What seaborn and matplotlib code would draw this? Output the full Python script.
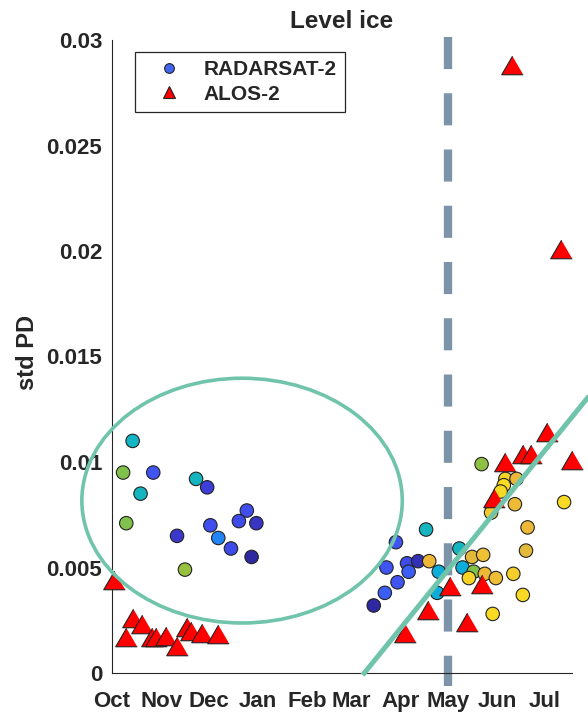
import pandas as pd
import seaborn as sns
import matplotlib
matplotlib.use("Agg")
import matplotlib.pyplot as plt
import matplotlib.dates as mdates
from matplotlib.colors import LinearSegmentedColormap
from matplotlib.lines import Line2D
from matplotlib.patches import Ellipse
from matplotlib.transforms import blended_transform_factory

# RADARSAT-2: acquisition date, std PD, colour tone (0 = dark blue ... 1 = yellow)
rs_dates = ["2016-10-14", "2016-10-08", "2016-10-27", "2016-10-19", "2016-11-23",
            "2016-11-30", "2016-10-10", "2016-11-11", "2016-12-02", "2016-12-07",
            "2016-12-15", "2016-12-25", "2016-12-20", "2016-12-31", "2016-12-28",
            "2016-11-16",
            "2017-03-29", "2017-04-17", "2017-03-23", "2017-04-05", "2017-04-12",
            "2017-04-06", "2017-04-19", "2017-03-30", "2017-03-22", "2017-03-15",
            "2017-04-25", "2017-04-24", "2017-05-08", "2017-05-16", "2017-05-23",
            "2017-05-10", "2017-05-17", "2017-05-14", "2017-05-24", "2017-05-31",
            "2017-06-11", "2017-06-17", "2017-05-29", "2017-06-19", "2017-06-20",
            "2017-06-12", "2017-07-13", "2017-05-22", "2017-06-06", "2017-06-13",
            "2017-06-05", "2017-06-03", "2017-05-28"]
rs_std = [0.0110, 0.0095, 0.0095, 0.0085, 0.0092,
          0.0088, 0.0071, 0.0065, 0.0070, 0.0064,
          0.0059, 0.0077, 0.0072, 0.0071, 0.0055,
          0.0049,
          0.0062, 0.0068, 0.0050, 0.0052, 0.0053,
          0.0048, 0.0053, 0.0043, 0.0038, 0.0032,
          0.0048, 0.0038, 0.0059, 0.0055, 0.0056,
          0.0050, 0.0048, 0.0045, 0.0047, 0.0045,
          0.0047, 0.0037, 0.0028, 0.0058, 0.0069,
          0.0080, 0.0081, 0.0099, 0.0092, 0.0092,
          0.0089, 0.0086, 0.0076]
rs_tone = [0.44, 0.65, 0.15, 0.45, 0.45,
           0.10, 0.65, 0.08, 0.14, 0.25,
           0.13, 0.14, 0.13, 0.07, 0.02,
           0.70,
           0.15, 0.45, 0.15, 0.13, 0.05,
           0.17, 0.85, 0.15, 0.17, 0.02,
           0.38, 0.38, 0.45, 0.83, 0.88,
           0.38, 0.65, 0.95, 0.85, 0.87,
           0.93, 0.97, 0.97, 0.83, 0.85,
           0.86, 0.97, 0.68, 0.95, 0.85,
           0.98, 0.97, 0.92]

# ALOS-2: acquisition date, std PD
alos_dates = ["2016-10-02", "2016-10-14", "2016-10-20", "2016-10-10", "2016-10-26",
              "2016-10-29", "2016-11-04", "2016-11-11", "2016-11-17", "2016-11-20",
              "2016-11-27", "2016-12-07",
              "2017-04-04", "2017-04-18", "2017-05-02", "2017-05-13", "2017-05-22",
              "2017-05-30", "2017-06-06", "2017-06-17", "2017-06-22", "2017-07-02",
              "2017-07-18", "2017-06-10", "2017-07-11"]
alos_std = [0.0044, 0.0026, 0.0023, 0.0017, 0.0017,
            0.0017, 0.00175, 0.0013, 0.0022, 0.0020,
            0.0019, 0.00185,
            0.0019, 0.0030, 0.0041, 0.0024, 0.0042,
            0.0083, 0.0100, 0.0104, 0.0104, 0.0114,
            0.0101, 0.0288, 0.0201]

y_ticks = [0, 0.005, 0.01, 0.015, 0.02, 0.025, 0.03]
y_labels = ["0", "0.005", "0.01", "0.015", "0.02", "0.025", "0.03"]

rs = pd.DataFrame({"date": pd.to_datetime(rs_dates), "std": rs_std, "tone": rs_tone})
alos = pd.DataFrame({"date": pd.to_datetime(alos_dates), "std": alos_std})

# parula-like colour ramp
tone_cmap = LinearSegmentedColormap.from_list("parula_like", [
    (0.00, (0.17, 0.14, 0.58)),
    (0.10, (0.24, 0.24, 0.85)),
    (0.15, (0.25, 0.33, 0.95)),
    (0.25, (0.13, 0.52, 0.97)),
    (0.38, (0.05, 0.68, 0.85)),
    (0.47, (0.09, 0.72, 0.72)),
    (0.62, (0.45, 0.76, 0.33)),
    (0.72, (0.62, 0.75, 0.22)),
    (0.85, (0.93, 0.72, 0.22)),
    (1.00, (0.98, 0.88, 0.12)),
])

sns.set_style("white")
plt.rcParams["font.family"] = ["Liberation Sans", "DejaVu Sans"]
plt.rcParams["font.weight"] = "bold"

dark = "#262626"
mint = "#70c4ab"

fig = plt.figure(figsize=(5.88, 7.12), dpi=100)
ax = fig.add_axes([112 / 588, 39 / 712, 460 / 588, 633 / 712])

sns.scatterplot(data=rs, x="date", y="std", hue="tone", palette=tone_cmap,
                hue_norm=(0, 1), s=94, edgecolor="#222222", linewidth=0.8,
                legend=False, ax=ax, clip_on=False, zorder=3)
tri = [(0, 0.86), (-1, -0.86), (1, -0.86)]
sns.scatterplot(data=alos, x="date", y="std", marker=tri, s=240, color="red",
                edgecolor="#222222", linewidth=0.8, legend=False, ax=ax,
                clip_on=False, zorder=4)

ax.set_xlim(pd.Timestamp("2016-10-01"), pd.Timestamp("2017-07-18"))
ax.set_ylim(0, 0.03)
ax.xaxis.set_major_locator(mdates.MonthLocator())
ax.xaxis.set_major_formatter(mdates.DateFormatter("%b"))
ax.set_yticks(y_ticks)
ax.set_yticklabels(y_labels)
ax.set_xlabel("")
ax.set_ylabel("")

for side in ["top", "right"]:
    ax.spines[side].set_visible(False)
for side in ["left", "bottom"]:
    ax.spines[side].set_color(dark)
    ax.spines[side].set_linewidth(0.8)
ax.tick_params(direction="in", length=5, width=0.8, color=dark,
               labelcolor=dark, labelsize=16)
ax.tick_params(axis="y", pad=7)
ax.tick_params(axis="x", pad=13)

ax.set_title("Level ice", fontsize=17.5, fontweight="bold", color=dark, pad=9)
fig.text(27 / 588, 1 - 352 / 712, "std PD", rotation=90, ha="center",
         va="center", fontsize=17, fontweight="bold", color=dark)

# dashed marker at 1 May
trans = blended_transform_factory(ax.transData, ax.transAxes)
may1 = mdates.date2num(pd.Timestamp("2017-05-01"))
ax.plot([may1, may1], [1.0047, -0.02], transform=trans, color="#7d93a8",
        lw=6, ls=(0, (3.85, 2.9)), clip_on=False, zorder=2)

# annotation ellipse and trend line
ell = Ellipse((mdates.date2num(pd.Timestamp("2016-12-22")), 0.00817),
              width=202, height=0.0116, fill=False, edgecolor=mint, lw=2.6,
              clip_on=False, zorder=6)
ax.add_patch(ell)
ax.plot(pd.to_datetime(["2017-03-08", "2017-08-05"]), [-0.0001, 0.0138],
        color=mint, lw=3.6, clip_on=False, zorder=6, solid_capstyle="butt")

handles = [
    Line2D([], [], ls="", marker="o", markersize=7, markerfacecolor=(0.25, 0.4, 0.95),
           markeredgecolor="#222222", markeredgewidth=0.8),
    Line2D([], [], ls="", marker="^", markersize=8, markerfacecolor="red",
           markeredgecolor="#222222", markeredgewidth=0.8),
]
leg = ax.legend(handles, ["RADARSAT-2", "ALOS-2"], loc="upper left",
                bbox_to_anchor=(0.05, 0.981), borderaxespad=0, fontsize=15,
                frameon=True, fancybox=False, edgecolor=dark, framealpha=1,
                borderpad=0.4, handlelength=2.5, handletextpad=0.4,
                labelspacing=0.25)
leg.get_frame().set_linewidth(0.9)
for t in leg.get_texts():
    t.set_color(dark)

fig.savefig("out.png", dpi=100)
